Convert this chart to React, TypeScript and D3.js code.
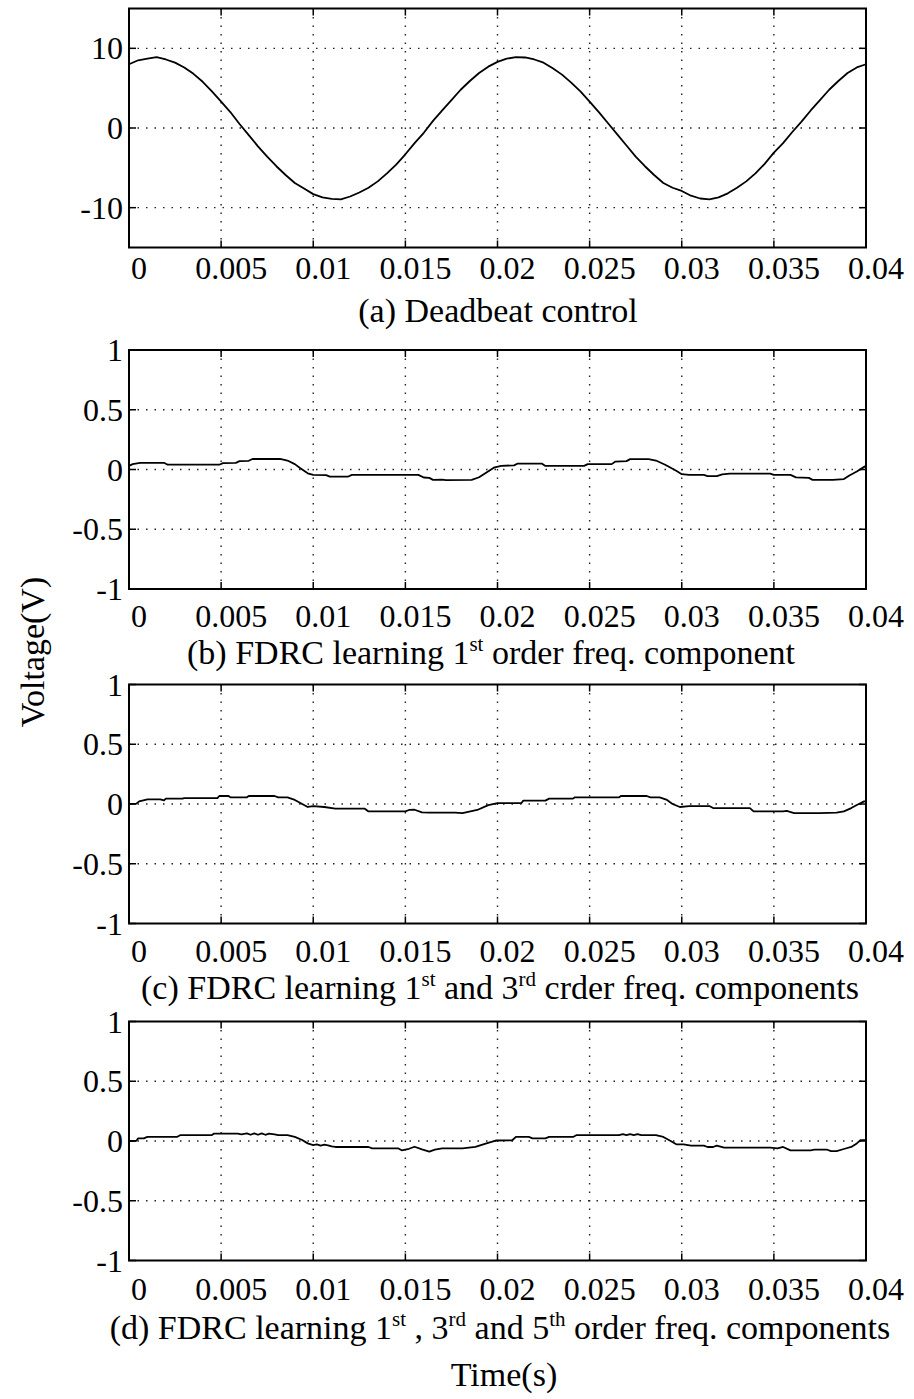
import React from "react";
import * as d3 from "d3";

// ---- axis ticks and labels ----
const TIME_TICKS = [0, 0.005, 0.01, 0.015, 0.02, 0.025, 0.03, 0.035, 0.04];
const TIME_TICK_LABELS = ["0", "0.005", "0.01", "0.015", "0.02", "0.025", "0.03", "0.035", "0.04"];
const DEADBEAT_TICKS = [-10, 0, 10];
const DEADBEAT_TICK_LABELS = ["-10", "0", "10"];
const FDRC_TICKS = [-1, -0.5, 0, 0.5, 1];
const FDRC_TICK_LABELS = ["-1", "-0.5", "0", "0.5", "1"];

// ---- tracking error waveforms: [time (s), voltage (V)] ----
const deadbeat: [number, number][] = [
  [0, 8.0], [0.0005, 8.5], [0.001, 8.7], [0.0015, 8.9], [0.002, 8.6], [0.0025, 8.2],
  [0.003, 7.6], [0.0035, 6.8], [0.004, 5.8], [0.0045, 4.6], [0.005, 3.3], [0.0055, 2.0],
  [0.006, 0.5], [0.0065, -0.9], [0.007, -2.3], [0.0075, -3.6], [0.008, -4.8], [0.0085, -5.9],
  [0.009, -6.9], [0.0095, -7.6], [0.01, -8.3], [0.0105, -8.7], [0.011, -8.9], [0.0115, -8.95],
  [0.012, -8.6], [0.0125, -8.1], [0.013, -7.5], [0.0135, -6.7], [0.014, -5.7], [0.0145, -4.6],
  [0.015, -3.3], [0.0155, -1.9], [0.016, -0.6], [0.0165, 0.9], [0.017, 2.2], [0.0175, 3.5],
  [0.018, 4.8], [0.0185, 5.9], [0.019, 6.9], [0.0195, 7.7], [0.02, 8.3], [0.0205, 8.7],
  [0.021, 8.9], [0.0215, 8.85], [0.022, 8.6], [0.0225, 8.2], [0.023, 7.5], [0.0235, 6.7],
  [0.024, 5.7], [0.0245, 4.6], [0.025, 3.3], [0.0255, 2.0], [0.026, 0.6], [0.0265, -0.8],
  [0.027, -2.2], [0.0275, -3.6], [0.028, -4.8], [0.0285, -5.9], [0.029, -6.9], [0.0295, -7.5],
  [0.03, -7.9], [0.0305, -8.5], [0.031, -8.85], [0.0315, -8.95], [0.032, -8.7], [0.0325, -8.2],
  [0.033, -7.5], [0.0335, -6.7], [0.034, -5.7], [0.0345, -4.5], [0.035, -3.1], [0.0355, -1.9],
  [0.036, -0.5], [0.0365, 0.8], [0.037, 2.2], [0.0375, 3.5], [0.038, 4.8], [0.0385, 5.9],
  [0.039, 6.9], [0.0395, 7.6], [0.04, 8.0],
];

const fdrc1: [number, number][] = [
  [0, 0.03], [0.0002, 0.045], [0.0006, 0.056], [0.0019, 0.056], [0.0021, 0.04], [0.0049, 0.04],
  [0.0051, 0.053], [0.0058, 0.056], [0.006, 0.07], [0.0065, 0.073], [0.0067, 0.088], [0.0082, 0.088],
  [0.0086, 0.075], [0.009, 0.045], [0.0093, 0.01], [0.0097, -0.032], [0.01, -0.045], [0.0107, -0.047],
  [0.0109, -0.059], [0.0119, -0.059], [0.0121, -0.045], [0.0157, -0.045], [0.016, -0.067], [0.0163, -0.07],
  [0.0165, -0.087], [0.017, -0.085], [0.0172, -0.089], [0.0186, -0.086], [0.019, -0.065], [0.0194, -0.025],
  [0.0198, 0.015], [0.0202, 0.03], [0.0209, 0.035], [0.0211, 0.05], [0.0224, 0.05], [0.0226, 0.03],
  [0.0247, 0.03], [0.0249, 0.045], [0.0262, 0.045], [0.0264, 0.066], [0.027, 0.07], [0.0272, 0.087],
  [0.0282, 0.087], [0.0286, 0.075], [0.0291, 0.04], [0.0297, -0.011], [0.03, -0.039], [0.0304, -0.045],
  [0.0312, -0.045], [0.0314, -0.056], [0.0319, -0.056], [0.0322, -0.04], [0.0326, -0.034], [0.0348, -0.034],
  [0.035, -0.045], [0.0359, -0.045], [0.0362, -0.066], [0.0369, -0.07], [0.0371, -0.087], [0.0382, -0.087],
  [0.0388, -0.08], [0.0391, -0.05], [0.0395, -0.017], [0.0399, 0.022], [0.04, 0.03],
];

const fdrc13: [number, number][] = [
  [0, 0], [0.0004, 0.003], [0.00055, 0.022], [0.001, 0.039], [0.0017, 0.039], [0.0019, 0.03],
  [0.002, 0.045], [0.0029, 0.045], [0.003, 0.05], [0.0048, 0.05], [0.0049, 0.067], [0.0054, 0.067],
  [0.0055, 0.056], [0.0064, 0.056], [0.0065, 0.067], [0.0079, 0.067], [0.0081, 0.056], [0.0086, 0.056],
  [0.009, 0.034], [0.0094, 0.0], [0.0097, -0.025], [0.01, -0.017], [0.0106, -0.025], [0.0112, -0.039],
  [0.0128, -0.039], [0.013, -0.062], [0.015, -0.062], [0.0152, -0.05], [0.0155, -0.048], [0.0159, -0.07],
  [0.0163, -0.073], [0.0177, -0.073], [0.0181, -0.076], [0.0189, -0.05], [0.0195, -0.01], [0.02, 0.008],
  [0.0213, 0.008], [0.0214, 0.028], [0.0226, 0.028], [0.0228, 0.045], [0.0241, 0.045], [0.0242, 0.056],
  [0.0266, 0.056], [0.0267, 0.067], [0.0281, 0.067], [0.0283, 0.056], [0.0288, 0.056], [0.0292, 0.034],
  [0.0295, 0.0], [0.0299, -0.025], [0.0304, -0.017], [0.0315, -0.017], [0.0317, -0.034], [0.0337, -0.034],
  [0.0339, -0.062], [0.0355, -0.062], [0.0357, -0.057], [0.0361, -0.076], [0.0375, -0.076], [0.0384, -0.073],
  [0.0388, -0.062], [0.0392, -0.034], [0.0395, -0.008], [0.0399, 0.022], [0.04, 0.022],
];

const fdrc135: [number, number][] = [
  [0, 0], [0.0004, 0.002], [0.0005, 0.022], [0.0008, 0.022], [0.001, 0.034], [0.0026, 0.034],
  [0.0028, 0.05], [0.0045, 0.05], [0.0046, 0.061], [0.0059, 0.061], [0.0061, 0.056], [0.0064, 0.064],
  [0.0066, 0.052], [0.0068, 0.064], [0.007, 0.052], [0.0072, 0.064], [0.0074, 0.052], [0.0076, 0.062],
  [0.0079, 0.056], [0.0081, 0.05], [0.0086, 0.05], [0.009, 0.034], [0.0094, 0.008], [0.0097, -0.02],
  [0.01, -0.034], [0.0102, -0.028], [0.0104, -0.038], [0.0106, -0.03], [0.0108, -0.036], [0.011, -0.045],
  [0.0112, -0.05], [0.013, -0.05], [0.0132, -0.061], [0.0146, -0.061], [0.0148, -0.078], [0.0152, -0.065],
  [0.0155, -0.048], [0.0159, -0.07], [0.0163, -0.089], [0.0166, -0.072], [0.017, -0.061], [0.0181, -0.061],
  [0.0188, -0.05], [0.0194, -0.02], [0.0199, 0.004], [0.0208, 0.006], [0.021, 0.034], [0.0217, 0.034],
  [0.0219, 0.022], [0.0226, 0.022], [0.0228, 0.034], [0.0241, 0.034], [0.0243, 0.05], [0.0266, 0.05],
  [0.0268, 0.058], [0.027, 0.05], [0.0272, 0.058], [0.0274, 0.05], [0.0276, 0.058], [0.0278, 0.05],
  [0.0286, 0.05], [0.029, 0.034], [0.0294, 0.0], [0.0297, -0.028], [0.0301, -0.028], [0.0305, -0.039],
  [0.0312, -0.039], [0.0314, -0.05], [0.0317, -0.05], [0.0319, -0.039], [0.0323, -0.056], [0.0348, -0.056],
  [0.0352, -0.061], [0.0355, -0.05], [0.0359, -0.078], [0.037, -0.078], [0.0372, -0.073], [0.0379, -0.073],
  [0.0381, -0.084], [0.0384, -0.084], [0.0388, -0.067], [0.0392, -0.05], [0.0395, -0.02], [0.0397, 0.008],
  [0.04, 0.008],
];

// caption pieces: plain text and superscript ordinals
type Seg = { t: string; sup?: boolean };
const captionA: Seg[] = [{ t: "(a) Deadbeat control" }];
const captionB: Seg[] = [
  { t: "(b) FDRC learning 1" }, { t: "st", sup: true }, { t: " order freq. component" },
];
const captionC: Seg[] = [
  { t: "(c) FDRC learning 1" }, { t: "st", sup: true }, { t: " and 3" }, { t: "rd", sup: true },
  { t: " crder freq. components" },
];
const captionD: Seg[] = [
  { t: "(d) FDRC learning 1" }, { t: "st", sup: true }, { t: " , 3" }, { t: "rd", sup: true },
  { t: " and 5" }, { t: "th", sup: true }, { t: " order freq. components" },
];

const FONT = "'Liberation Serif', 'Times New Roman', serif";
const TICK_FS = 32;
const CAP_FS = 34;
const SUP_FS = 21;
const SUP_RISE = 13;
const LEFT = 129;
const RIGHT = 866;
const LABEL_SHIFT = 10;
const TICK_LEN = 7;

const panels = [
  { data: deadbeat, yDomain: [-15, 15], yTicks: DEADBEAT_TICKS, yLabels: DEADBEAT_TICK_LABELS, caption: captionA, capX: 498, top: 8.5, bottom: 247.5, tickBase: 279, capBase: 322 },
  { data: fdrc1, yDomain: [-1, 1], yTicks: FDRC_TICKS, yLabels: FDRC_TICK_LABELS, caption: captionB, capX: 491, top: 350, bottom: 589, tickBase: 627, capBase: 664 },
  { data: fdrc13, yDomain: [-1, 1], yTicks: FDRC_TICKS, yLabels: FDRC_TICK_LABELS, caption: captionC, capX: 500, top: 684.5, bottom: 923.5, tickBase: 962, capBase: 999 },
  { data: fdrc135, yDomain: [-1, 1], yTicks: FDRC_TICKS, yLabels: FDRC_TICK_LABELS, caption: captionD, capX: 500, top: 1021.5, bottom: 1260.5, tickBase: 1300, capBase: 1339 },
];

function Caption({ segs, x, y }: { segs: Seg[]; x: number; y: number }) {
  const parts: React.ReactNode[] = [];
  let raised = false;
  segs.forEach((s, i) => {
    if (s.sup) {
      parts.push(<tspan key={i} dy={-SUP_RISE} fontSize={SUP_FS}>{s.t}</tspan>);
      raised = true;
    } else {
      parts.push(<tspan key={i} dy={raised ? SUP_RISE : 0}>{s.t}</tspan>);
      raised = false;
    }
  });
  return (
    <text x={x} y={y} textAnchor="middle" fontSize={CAP_FS} fontFamily={FONT} fill="#000">
      {parts}
    </text>
  );
}

function Panel({ p }: { p: (typeof panels)[number] }) {
  const x = d3.scaleLinear().domain([0, 0.04]).range([LEFT, RIGHT]);
  const y = d3.scaleLinear().domain(p.yDomain).range([p.bottom, p.top]);
  const line = d3.line<[number, number]>().x((d) => x(d[0])).y((d) => y(d[1]));
  const [y0, y1] = p.yDomain;
  return (
    <g>
      {/* dotted grid */}
      {TIME_TICKS.filter((t) => t > 0 && t < 0.04).map((t) => (
        <line key={"gx" + t} x1={x(t)} x2={x(t)} y1={p.top} y2={p.bottom} stroke="#222" strokeWidth={1.4} strokeDasharray="1.5 7" />
      ))}
      {p.yTicks.filter((v) => v > y0 && v < y1).map((v) => (
        <line key={"gy" + v} x1={LEFT} x2={RIGHT} y1={y(v)} y2={y(v)} stroke="#222" strokeWidth={1.4} strokeDasharray="1.5 7" />
      ))}
      {/* inward ticks on all four sides */}
      {TIME_TICKS.map((t) => (
        <g key={"tx" + t}>
          <line x1={x(t)} x2={x(t)} y1={p.bottom} y2={p.bottom - TICK_LEN} stroke="#000" strokeWidth={1.5} />
          <line x1={x(t)} x2={x(t)} y1={p.top} y2={p.top + TICK_LEN} stroke="#000" strokeWidth={1.5} />
        </g>
      ))}
      {p.yTicks.map((v) => (
        <g key={"ty" + v}>
          <line x1={LEFT} x2={LEFT + TICK_LEN} y1={y(v)} y2={y(v)} stroke="#000" strokeWidth={1.5} />
          <line x1={RIGHT} x2={RIGHT - TICK_LEN} y1={y(v)} y2={y(v)} stroke="#000" strokeWidth={1.5} />
        </g>
      ))}
      {/* waveform */}
      <path d={line(p.data) ?? ""} fill="none" stroke="#000" strokeWidth={1.8} strokeLinejoin="round" />
      {/* frame */}
      <rect x={LEFT} y={p.top} width={RIGHT - LEFT} height={p.bottom - p.top} fill="none" stroke="#000" strokeWidth={2} />
      {/* tick labels */}
      {TIME_TICKS.map((t, i) => (
        <text key={"lx" + t} x={x(t) + LABEL_SHIFT} y={p.tickBase} textAnchor="middle" fontSize={TICK_FS} fontFamily={FONT} fill="#000">
          {TIME_TICK_LABELS[i]}
        </text>
      ))}
      {p.yTicks.map((v, i) => (
        <text key={"ly" + v} x={LEFT - 6} y={y(v) + 11} textAnchor="end" fontSize={TICK_FS} fontFamily={FONT} fill="#000">
          {p.yLabels[i]}
        </text>
      ))}
      <Caption segs={p.caption} x={p.capX} y={p.capBase} />
    </g>
  );
}

export default function App() {
  return (
    <svg width={914} height={1399} viewBox="0 0 914 1399" style={{ display: "block", position: "absolute", left: 0, top: 0, background: "#fff" }}>
      <rect x={0} y={0} width={914} height={1399} fill="#fff" />
      {panels.map((p, i) => (
        <Panel key={i} p={p} />
      ))}
      <text transform="translate(44,652) rotate(-90)" textAnchor="middle" fontSize={CAP_FS} fontFamily={FONT} fill="#000">
        Voltage(V)
      </text>
      <text x={504} y={1386} textAnchor="middle" fontSize={CAP_FS} fontFamily={FONT} fill="#000">
        Time(s)
      </text>
    </svg>
  );
}
